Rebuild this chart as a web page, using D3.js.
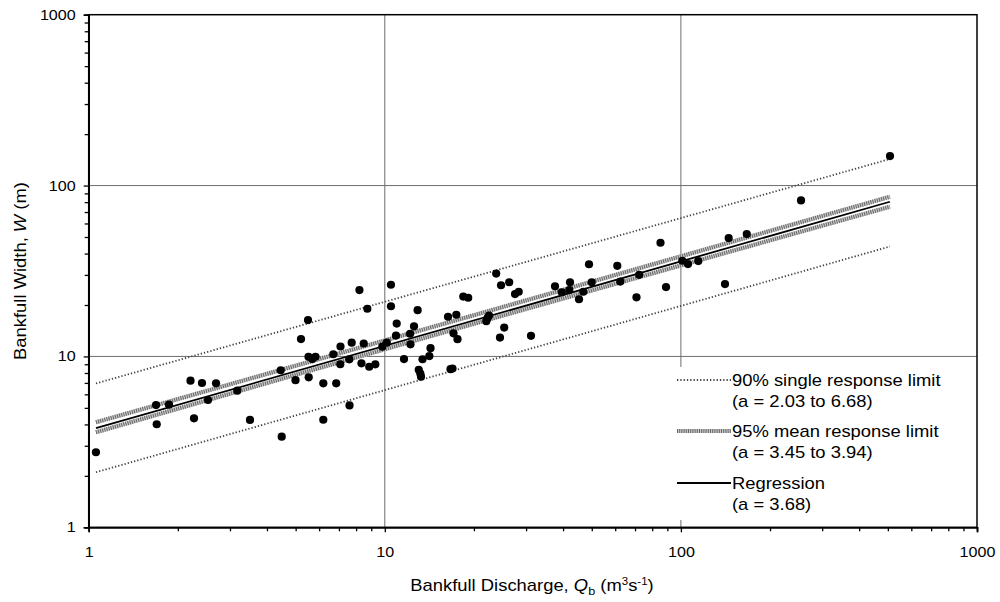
<!DOCTYPE html>
<html><head><meta charset="utf-8">
<script src="https://cdn.jsdelivr.net/npm/d3@7"></script>
<style>body{margin:0;background:#fff}svg{display:block;font-family:Arial,"Liberation Sans",sans-serif}</style>
</head><body><svg id="c" width="1000" height="602"></svg>
<script>
// Observed data: bankfull discharge Q (m3/s) and bankfull width W (m)
const dischargeQ = [1.058,1.688,1.697,1.867,2.207,2.268,2.413,2.529,2.692,3.176,3.505,4.452,4.486,4.994,5.212,5.503,5.534,5.525,5.690,5.834,6.199,6.199,6.70,7.086,7.074,6.853,7.73,7.59,7.60,8.21,8.34,8.49,8.73,8.86,9.29,9.81,10.16,10.49,10.49,10.91,10.97,11.61,12.17,12.21,12.55,12.91,13.02,13.18,13.25,13.41,14.14,14.27,16.35,16.67,16.93,17.06,17.44,17.60,18.41,19.13,22.02,22.23,22.49,23.78,24.69,25.31,24.49,26.31,27.53,28.33,31.17,37.57,39.61,42.22,41.99,45.28,46.82,48.94,49.98,60.98,62.42,70.79,72.30,85.33,89.07,101.1,105.7,114.5,140.9,145.0,166.9,254.5,508.4];
const widthW = [2.75,5.19,4.01,5.22,7.21,4.34,6.99,5.56,6.96,6.30,4.25,8.30,3.39,7.26,12.64,16.33,7.55,9.96,9.65,9.96,6.96,4.26,10.30,11.43,9.00,6.96,12.03,9.62,5.17,24.46,9.11,11.90,19.02,8.70,8.99,11.40,12.03,26.28,19.67,13.25,15.58,9.65,13.58,11.77,15.01,18.64,8.36,7.94,7.61,9.63,10.05,11.17,17.07,8.42,8.50,13.65,17.54,12.61,22.41,22.05,16.07,16.77,17.35,30.55,26.10,14.76,12.90,27.18,23.18,23.91,13.20,25.75,23.72,27.18,24.46,21.61,23.91,34.64,27.14,33.90,27.43,22.17,30.02,46.28,25.47,36.31,34.73,36.16,26.52,49.29,52.02,81.9,148.8];

// Fitted lines (values at their ends)
const lineQ = [1.058, 508];
const regressionW = [3.80, 80.4];
const single90Upper = [6.95, 143];
const single90Lower = [2.10, 44];
const bandQ = [1.058, 22, 508];
const mean95Upper = [4.12, 18.27, 86.0];
const mean95Lower = [3.60, 16.28, 75.2];

const majorTicks = [1, 10, 100, 1000];
const gridValues = [10, 100];
const legendItems = [
  {key: "single", l1: "90% single response limit", l2: "(a = 2.03 to 6.68)"},
  {key: "mean", l1: "95% mean response limit", l2: "(a = 3.45 to 3.94)"},
  {key: "reg", l1: "Regression", l2: "(a = 3.68)"}
];

const svg = d3.select("#c");
const L = 88.7, R = 977, T = 14.7, B = 527.3;
const x = d3.scaleLog().domain([1, 1000]).range([L, R]);
const y = d3.scaleLog().domain([1, 1000]).range([B, T]);
const SX = 1.15; // horizontal stretch of the lettering in the original

const minorVals = [];
[1, 10, 100].forEach(d => { for (let k = 2; k <= 9; k++) minorVals.push(d * k); });

// gridlines
const grid = svg.append("g").attr("stroke", "#6d6d6d").attr("stroke-width", 1);
gridValues.forEach(v => {
  grid.append("line").attr("x1", x(v)).attr("x2", x(v)).attr("y1", T).attr("y2", B);
  grid.append("line").attr("x1", L).attr("x2", R).attr("y1", y(v)).attr("y2", y(v));
});

const styles = {
  single: {stroke: "#444", width: 1.8, dash: "1.3,2"},
  meanBg: {stroke: "#c8c8c8", width: 4.2, dash: null},
  mean: {stroke: "#666", width: 4.2, dash: "1,1.2"},
  reg: {stroke: "#000", width: 1.8, dash: null}
};
function drawLine(g, qs, ws, st, curve) {
  const gen = d3.line().x(d => x(d[0])).y(d => y(d[1])).curve(curve || d3.curveLinear);
  g.append("path").attr("d", gen(qs.map((q, i) => [q, ws[i]])))
    .attr("fill", "none").attr("stroke", st.stroke).attr("stroke-width", st.width)
    .attr("stroke-dasharray", st.dash);
}
const lines = svg.append("g");
drawLine(lines, lineQ, single90Upper, styles.single);
drawLine(lines, lineQ, single90Lower, styles.single);
drawLine(lines, bandQ, mean95Upper, styles.meanBg, d3.curveNatural);
drawLine(lines, bandQ, mean95Lower, styles.meanBg, d3.curveNatural);
drawLine(lines, bandQ, mean95Upper, styles.mean, d3.curveNatural);
drawLine(lines, bandQ, mean95Lower, styles.mean, d3.curveNatural);
drawLine(lines, lineQ, regressionW, styles.reg);

// points
svg.append("g").selectAll("circle").data(dischargeQ).join("circle")
  .attr("cx", d => x(d)).attr("cy", (d, i) => y(widthW[i])).attr("r", 4.1).attr("fill", "#000");

// legend
const lg = svg.append("g");
lg.append("rect").attr("x", 672).attr("y", 367).attr("width", R - 672 - 1).attr("height", 153).attr("fill", "#fff");
const rowY = [380, 431, 483];
legendItems.forEach((it, i) => {
  const ly = rowY[i];
  const st = it.key === "single" ? [styles.single] : it.key === "mean" ? [styles.meanBg, styles.mean] : [styles.reg];
  st.forEach(s => lg.append("line").attr("x1", 677).attr("x2", 731).attr("y1", ly).attr("y2", ly)
    .attr("stroke", s.stroke).attr("stroke-width", s.width).attr("stroke-dasharray", s.dash));
  lg.append("text").attr("transform", `translate(732,${ly + 6}) scale(${SX},1)`).attr("font-size", 16).attr("fill", "#000").text(it.l1);
  lg.append("text").attr("transform", `translate(732,${ly + 27}) scale(${SX},1)`).attr("font-size", 16).attr("fill", "#000").text(it.l2);
});

// frame
svg.append("rect").attr("x", L).attr("y", T).attr("width", R - L).attr("height", B - T)
  .attr("fill", "none").attr("stroke", "#000").attr("stroke-width", 1.5);

// axes
const fmt = d3.format("d");
const xAxis = svg.append("g").attr("transform", `translate(0,${B})`)
  .call(d3.axisBottom(x).tickValues(majorTicks).tickFormat(fmt).tickSize(5).tickPadding(15));
const xMinor = svg.append("g").attr("transform", `translate(0,${B})`)
  .call(d3.axisBottom(x).tickValues(minorVals).tickFormat("").tickSize(4));
const yAxis = svg.append("g").attr("transform", `translate(${L},0)`)
  .call(d3.axisLeft(y).tickValues(majorTicks).tickFormat(fmt).tickSize(5).tickPadding(8));
const yMinor = svg.append("g").attr("transform", `translate(${L},0)`)
  .call(d3.axisLeft(y).tickValues(minorVals).tickFormat("").tickSize(4));
[xAxis, xMinor, yAxis, yMinor].forEach(a => {
  a.select(".domain").attr("stroke", "#000").attr("stroke-width", 1.5);
  a.selectAll(".tick line").attr("stroke", "#000").attr("stroke-width", 1.3);
  a.selectAll("text").attr("font-size", 14).attr("font-family", "Arial, 'Liberation Sans', sans-serif").attr("fill", "#000");
});
// stretch tick labels horizontally about their anchor
yAxis.selectAll(".tick text").each(function() {
  const t = d3.select(this); const tx = +t.attr("x");
  t.attr("x", 0).attr("transform", `translate(${tx},0) scale(${SX},1)`);
});
xAxis.selectAll(".tick text").attr("transform", `scale(${SX},1)`);

// axis titles
const xt = svg.append("text").attr("transform", `translate(532,591) scale(${SX},1)`).attr("text-anchor", "middle").attr("font-size", 16);
xt.append("tspan").text("Bankfull Discharge, ");
xt.append("tspan").attr("font-style", "italic").text("Q");
xt.append("tspan").attr("font-size", 11).attr("dy", 4).text("b");
xt.append("tspan").attr("dy", -4).text(" (m");
xt.append("tspan").attr("font-size", 10).attr("dy", -6).text("3");
xt.append("tspan").attr("dy", 6).text("s");
xt.append("tspan").attr("font-size", 10).attr("dy", -6).text("-1");
xt.append("tspan").attr("dy", 6).text(")");

const yt = svg.append("text").attr("transform", `translate(26,271) rotate(-90) scale(${SX},1)`).attr("text-anchor", "middle").attr("font-size", 16);
yt.append("tspan").text("Bankfull Width, ");
yt.append("tspan").attr("font-style", "italic").text("W");
yt.append("tspan").text(" (m)");
</script></body></html>
